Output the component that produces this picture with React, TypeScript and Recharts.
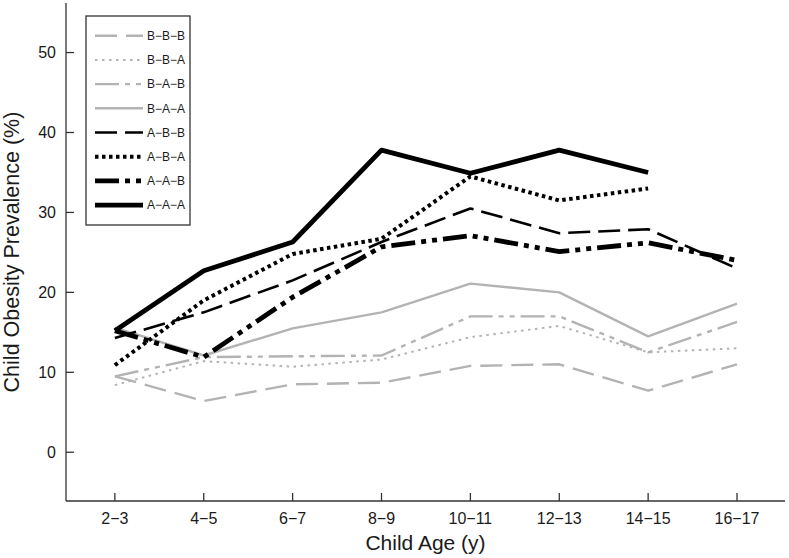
import { LineChart, Line, XAxis, YAxis } from "recharts";

// age groups along the x axis
const ageGroups = ["2−3", "4−5", "6−7", "8−9", "10−11", "12−13", "14−15", "16−17"];
const yTicks = [0, 10, 20, 30, 40, 50];

// prevalence (%) by weight-status trajectory
const bbb = [9.5, 6.4, 8.5, 8.7, 10.8, 11.0, 7.7, 11.0];
const bba = [8.4, 11.4, 10.7, 11.6, 14.4, 15.8, 12.5, 13.0];
const bab = [9.5, 11.9, 12.0, 12.1, 17.0, 17.0, 12.5, 16.3];
const baa = [15.6, 12.1, 15.5, 17.5, 21.1, 20.0, 14.5, 18.6];
const abb = [14.3, 17.5, 21.5, 26.3, 30.5, 27.4, 27.9, 23.0];
const aba = [10.9, 19.0, 24.8, 26.7, 34.5, 31.5, 33.0, null];
const aab = [15.2, 11.9, 19.4, 25.7, 27.1, 25.1, 26.2, 24.0];
const aaa = [15.2, 22.7, 26.3, 37.8, 34.9, 37.8, 35.0, null];

const seriesNames = ["B−B−B", "B−B−A", "B−A−B", "B−A−A", "A−B−B", "A−B−A", "A−A−B", "A−A−A"];
const seriesValues = [bbb, bba, bab, baa, abb, aba, aab, aaa];

const GRAY = "#b3b3b3";
const BLACK = "#000000";
const AXIS = "#333333";
const FONT = "'Liberation Sans', Arial, Helvetica, sans-serif";

const styles = [
  { color: GRAY, width: 2.4, dash: "22 9" },
  { color: GRAY, width: 2, dash: "2.5 4.5" },
  { color: GRAY, width: 2.4, dash: "24 6 5 6 5 6" },
  { color: GRAY, width: 2.4, dash: undefined },
  { color: BLACK, width: 2.6, dash: "22 8" },
  { color: BLACK, width: 4, dash: "3.5 3.5" },
  { color: BLACK, width: 4.8, dash: "24 6 5 6 5 6" },
  { color: BLACK, width: 4.8, dash: undefined },
];

const data = ageGroups.map((label, i) => {
  const row: Record<string, number | string | null> = { i, label };
  seriesNames.forEach((name, s) => {
    row[name] = seriesValues[s][i];
  });
  return row;
});

const XTick = (props: any) => {
  const { x, y, payload } = props;
  return (
    <g>
      <line x1={x} x2={x} y1={y} y2={y - 8} stroke={AXIS} strokeWidth={1.3} />
      <text x={x} y={y + 23} textAnchor="middle" fontSize={16} fill="#1a1a1a" fontFamily={FONT}>
        {ageGroups[payload.value]}
      </text>
    </g>
  );
};

const YTick = (props: any) => {
  const { x, y, payload } = props;
  return (
    <g>
      <line x1={x} x2={x + 8} y1={y} y2={y} stroke={AXIS} strokeWidth={1.3} />
      <text x={x - 10} y={y + 5.8} textAnchor="end" fontSize={16} fill="#1a1a1a" fontFamily={FONT}>
        {payload.value}
      </text>
    </g>
  );
};

const YTitle = (props: any) => {
  const { viewBox } = props;
  const cx = 18.5;
  const cy = viewBox.y + viewBox.height / 2;
  return (
    <text
      x={cx}
      y={cy}
      transform={`rotate(-90 ${cx} ${cy})`}
      textAnchor="middle"
      fontSize={21.5}
      fill="#1a1a1a"
      fontFamily={FONT}
    >
      Child Obesity Prevalence (%)
    </text>
  );
};

const XTitle = (props: any) => {
  const { viewBox } = props;
  const cx = viewBox.x + viewBox.width / 2;
  return (
    <text x={cx} y={550} textAnchor="middle" fontSize={21} fill="#1a1a1a" fontFamily={FONT}>
      Child Age (y)
    </text>
  );
};

function LegendBox() {
  return (
    <svg width={106} height={212} style={{ position: "absolute", left: 85, top: 15 }}>
      <rect x={1} y={1} width={104} height={209} fill="#fff" stroke={AXIS} strokeWidth={1.3} />
      {seriesNames.map((name, s) => {
        const y = 20.7 + s * 24.2;
        return (
          <g key={name}>
            <line
              x1={10}
              x2={58}
              y1={y}
              y2={y}
              stroke={styles[s].color}
              strokeWidth={styles[s].width}
              strokeDasharray={styles[s].dash}
            />
            <text x={62} y={y + 4.3} fontSize={12} fill="#1a1a1a" fontFamily={FONT}>
              {name}
            </text>
          </g>
        );
      })}
    </svg>
  );
}

export default function App() {
  return (
    <div style={{ position: "absolute", left: 0, top: 0, width: 789, height: 558, background: "#fff" }}>
      <LineChart width={789} height={558} data={data} margin={{ top: 3, right: 4, bottom: 0, left: 0 }}>
        <XAxis
          dataKey="i"
          type="number"
          domain={[-0.55, 7.54]}
          ticks={[0, 1, 2, 3, 4, 5, 6, 7]}
          allowDataOverflow
          height={57}
          axisLine={{ stroke: AXIS, strokeWidth: 1.3 }}
          tickLine={false}
          tickSize={0}
          tickMargin={0}
          tick={<XTick />}
          label={<XTitle />}
        />
        <XAxis
          xAxisId="top"
          dataKey="i"
          type="number"
          domain={[-0.55, 7.54]}
          orientation="top"
          height={0}
          tick={false}
          tickLine={false}
          axisLine={{ stroke: AXIS, strokeWidth: 1.3 }}
        />
        <YAxis
          type="number"
          domain={[-6.1, 56.2]}
          ticks={yTicks}
          allowDataOverflow
          width={66}
          axisLine={{ stroke: AXIS, strokeWidth: 1.3 }}
          tickLine={false}
          tickSize={0}
          tickMargin={0}
          tick={<YTick />}
          label={<YTitle />}
        />
        <YAxis
          yAxisId="right"
          orientation="right"
          type="number"
          domain={[-6.1, 56.2]}
          width={0}
          tick={false}
          tickLine={false}
          axisLine={{ stroke: AXIS, strokeWidth: 1.3 }}
        />
        {seriesNames.map((name, s) => (
          <Line
            key={name}
            dataKey={name}
            stroke={styles[s].color}
            strokeWidth={styles[s].width}
            strokeDasharray={styles[s].dash}
            strokeLinejoin="round"
            dot={false}
            activeDot={false}
            isAnimationActive={false}
            type="linear"
          />
        ))}
      </LineChart>
      <LegendBox />
    </div>
  );
}
